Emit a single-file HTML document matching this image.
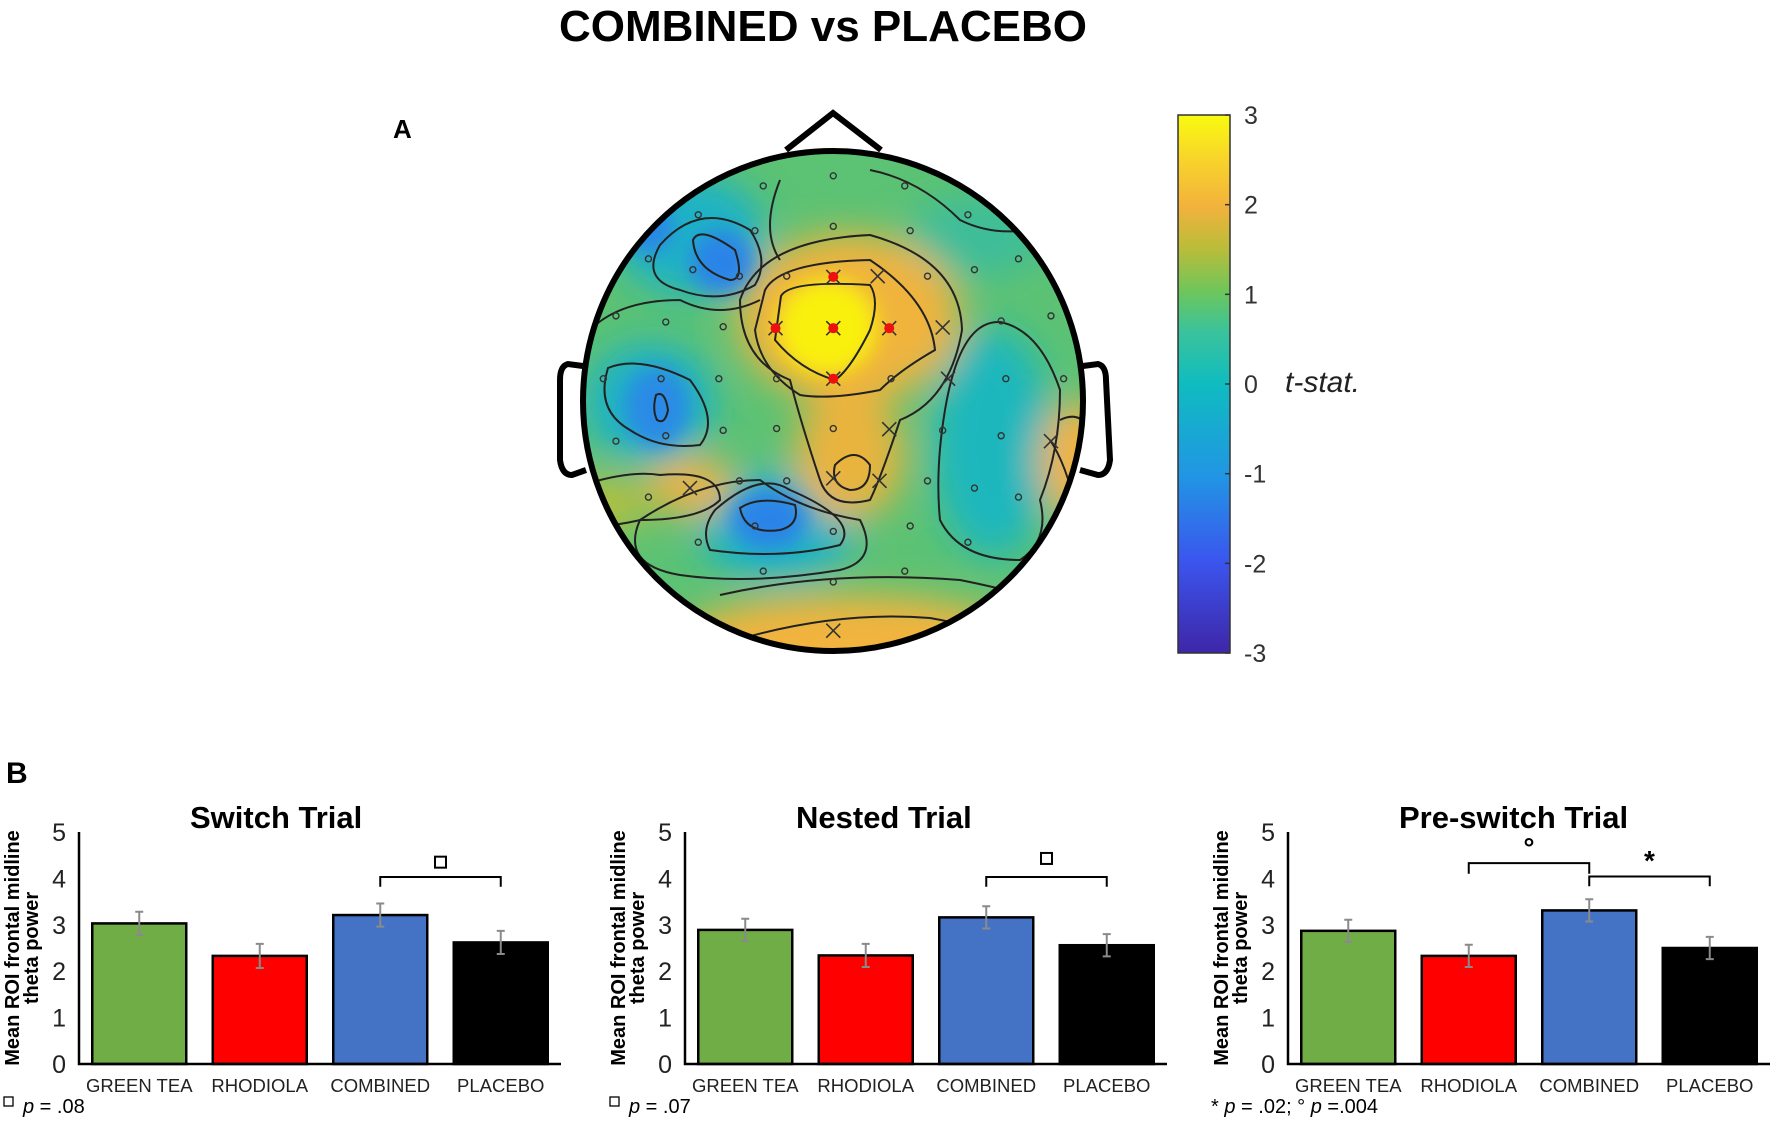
<!DOCTYPE html>
<html><head><meta charset="utf-8"><style>
html,body{margin:0;padding:0;background:#fff;}
svg{display:block;font-family:"Liberation Sans",Arial,sans-serif;}
</style></head><body>
<svg id="fig" width="1772" height="1122" viewBox="0 0 1772 1122">
<defs>
<linearGradient id="parula" x1="0" y1="1" x2="0" y2="0">
<stop offset="0" stop-color="#3e26a8"/><stop offset="0.17" stop-color="#3b55ee"/>
<stop offset="0.33" stop-color="#2196e4"/><stop offset="0.5" stop-color="#0fbcc0"/>
<stop offset="0.6" stop-color="#3cc39a"/><stop offset="0.67" stop-color="#6cc65c"/>
<stop offset="0.75" stop-color="#b8bd3a"/><stop offset="0.83" stop-color="#f2b23c"/>
<stop offset="0.92" stop-color="#f8d52a"/><stop offset="1" stop-color="#f9fb0e"/>
</linearGradient>
<clipPath id="headclip"><circle cx="833" cy="401" r="250"/></clipPath>
<filter id="blur" x="-50%" y="-50%" width="200%" height="200%"><feGaussianBlur stdDeviation="18"/></filter>
<filter id="blur2" x="-50%" y="-50%" width="200%" height="200%"><feGaussianBlur stdDeviation="10"/></filter>
</defs>
<text x="823" y="41" font-size="44" font-weight="bold" text-anchor="middle">COMBINED vs PLACEBO</text>
<text x="393" y="138" font-size="26" font-weight="bold">A</text>
<text x="6" y="783" font-size="30" font-weight="bold">B</text>

<g>
<polyline points="786,150 833,113 881,150" fill="none" stroke="#000" stroke-width="6"/>
<path d="M583,366 L568,364 Q560,366 560,380 L560,460 Q562,475 572,475 L586,470" fill="#fff" stroke="#000" stroke-width="6"/>
<path d="M1083,366 L1098,364 Q1106,366 1106,380 L1110,460 Q1108,475 1098,475 L1080,470" fill="#fff" stroke="#000" stroke-width="6"/>
<g clip-path="url(#headclip)">
<rect x="560" y="140" width="560" height="520" fill="#5cc274"/>
<g filter="url(#blur)">
<ellipse cx="690" cy="235" rx="75" ry="60" fill="#1fb2c6"/>
<ellipse cx="650" cy="403" rx="65" ry="60" fill="#1fb2c6"/>
<ellipse cx="777" cy="526" rx="80" ry="55" fill="#1fb2c6"/>
<ellipse cx="993" cy="443" rx="60" ry="115" fill="#1fb7bd"/>
<ellipse cx="975" cy="237" rx="70" ry="40" fill="#3dbd9a"/>
<ellipse cx="849" cy="318" rx="112" ry="85" fill="#f0b43e"/>
<ellipse cx="849" cy="455" rx="55" ry="65" fill="#e9b43e"/>
<ellipse cx="690" cy="486" rx="45" ry="30" fill="#e8b440"/>
<ellipse cx="849" cy="640" rx="170" ry="45" fill="#f2b43c"/>
<ellipse cx="1080" cy="461" rx="40" ry="60" fill="#f0b43e"/>
<ellipse cx="605" cy="505" rx="40" ry="30" fill="#b4bf40"/>
</g>
<g filter="url(#blur2)">
<ellipse cx="827" cy="327" rx="50" ry="48" fill="#f9f010"/>
<ellipse cx="722" cy="262" rx="32" ry="32" fill="#2a84e8"/>
<ellipse cx="648" cy="228" rx="25" ry="25" fill="#2a84e8"/>
<ellipse cx="657" cy="407" rx="32" ry="40" fill="#2a8ae6"/>
<ellipse cx="769" cy="519" rx="38" ry="30" fill="#2a84e8"/>
</g>
<g fill="none" stroke="#222" stroke-width="2">
<path d="M781,296 Q790,280 870,285 Q880,300 870,330 Q850,370 835,380 Q800,370 775,340 Z"/>
<path d="M765,290 Q780,262 870,260 Q930,300 935,350 Q900,370 880,390 Q830,400 800,395 Q760,370 755,330 Z"/>
<path d="M740,300 Q760,240 870,235 Q960,260 962,330 Q950,400 900,420 Q880,480 870,500 Q830,510 820,480 Q800,420 790,380 Q740,360 740,300 Z"/>
<path d="M693,240 Q700,225 735,250 Q745,280 730,280 Q695,270 693,240 Z"/>
<path d="M660,245 Q700,200 750,230 Q770,260 755,285 Q720,305 680,290 Q640,280 660,245 Z"/>
<path d="M608,368 Q640,355 690,380 Q720,420 700,445 Q660,450 630,430 Q595,410 608,368 Z"/>
<path d="M656,395 Q665,390 668,410 Q665,425 657,420 Q652,410 656,395 Z"/>
<path d="M740,508 Q760,495 795,505 Q800,525 780,530 Q745,535 740,508 Z"/>
<path d="M715,510 Q760,470 790,490 Q860,520 840,545 Q780,560 710,550 Q700,530 715,510 Z"/>
<path d="M640,520 Q700,480 760,480 Q800,510 860,520 Q880,560 840,570 Q750,585 680,575 Q620,565 640,520 Z"/>
<path d="M835,465 Q855,445 870,465 Q870,490 850,490 Q830,485 835,465 Z"/>
<path d="M945,410 Q960,320 1000,322 Q1040,330 1060,390 Q1060,450 1040,500 Q1050,540 1020,560 Q960,560 940,520 Q935,470 945,410 Z"/>
<path d="M720,595 Q830,570 960,580 Q1060,600 1080,620"/>
<path d="M720,645 Q830,610 930,618 Q1000,630 1040,660"/>
<path d="M1060,420 Q1080,410 1090,430 M1050,440 Q1070,470 1080,530"/>
<path d="M590,330 Q620,300 680,300 Q720,320 760,300"/>
<path d="M583,485 Q630,470 660,475 Q720,470 720,500 Q700,520 640,520 Q600,530 583,520"/>
<path d="M780,180 Q760,230 780,260 M870,170 Q920,180 960,220 Q1000,240 1050,225"/>
</g>
</g>
<circle cx="833" cy="401" r="250" fill="none" stroke="#000" stroke-width="6"/>
<g id="electrodes"></g>
</g>

<g>
<rect x="1178" y="115" width="52" height="538" fill="url(#parula)" stroke="#333" stroke-width="1.5"/>
<g id="cbticks"></g>
<text x="1285" y="392" font-size="30" font-style="italic" fill="#222">t-stat.</text>
</g>

<g id="charts"></g>
</svg>
<script>
var categories = ["GREEN TEA","RHODIOLA","COMBINED","PLACEBO"];
var barColors = ["#70ad47","#ff0000","#4472c4","#000000"];
var panelTitles = ["Switch Trial","Nested Trial","Pre-switch Trial"];
var switchValues = [3.03, 2.33, 3.21, 2.62];
var nestedValues = [2.89, 2.34, 3.16, 2.56];
var preswitchValues = [2.87, 2.33, 3.31, 2.50];
var switchErrors = [0.25, 0.26, 0.25, 0.25];
var nestedErrors = [0.24, 0.25, 0.24, 0.24];
var preswitchErrors = [0.24, 0.24, 0.24, 0.24];
var yTicks = [0,1,2,3,4,5];
var cbTicks = [3,2,1,0,-1,-2,-3];
var electrodePts = [[757,210],[563,238],[955,238],[383,318],[1130,318],[540,362],[757,350],[970,362],[245,440],[368,470],[497,488],[628,488],[1018,488],[1148,470],[1270,440],[155,598],[293,615],[452,628],[1222,612],[1360,598],[120,772],[280,772],[440,772],[600,772],[917,772],[1235,772],[1395,772],[293,930],[155,945],[452,915],[600,910],[757,910],[1060,915],[1222,930],[497,1055],[628,1055],[1018,1055],[1148,1075],[245,1100],[1270,1100],[540,1180],[757,1195],[970,1180],[1130,1225],[383,1225],[563,1305],[955,1305],[757,1335]];
var crossPts = [[880,488],[1060,630],[1075,772],[912,912],[757,1048],[885,1055],[1360,945],[757,1470],[360,1075]];
var redPts = [[757,490],[597,632],[757,632],[912,632],[757,772]];

var NS = "http://www.w3.org/2000/svg";
function mk(tag, attrs, parent){var e=document.createElementNS(NS,tag);for(var k in attrs)e.setAttribute(k,attrs[k]);parent.appendChild(e);return e;}
function zx(v){return 560+v/2.77;}
function zy(v){return 100+v/2.77;}

var eg=document.getElementById('electrodes');
electrodePts.forEach(function(p){
  var c=mk('circle',{cx:zx(p[0]),cy:zy(p[1]),r:3,fill:'none',stroke:'#333','stroke-width':1.4},eg);
  
  
});
crossPts.forEach(function(p){
  var x=zx(p[0]),y=zy(p[1]);
  var pth=mk('path',{d:'M'+(x-7)+','+(y-7)+'L'+(x+7)+','+(y+7)+'M'+(x+7)+','+(y-7)+'L'+(x-7)+','+(y+7),stroke:'#333','stroke-width':1.6},eg);
  
  
});
redPts.forEach(function(p){
  var x=zx(p[0]),y=zy(p[1]);
  mk('path',{d:'M'+(x-7)+','+(y-7)+'L'+(x+7)+','+(y+7)+'M'+(x+7)+','+(y-7)+'L'+(x-7)+','+(y+7),stroke:'#333','stroke-width':1.6},eg);
  var c=mk('circle',{cx:x,cy:y,r:5,fill:'#ee1010'},eg);
  
  
});

var cbg=document.getElementById('cbticks');
function cbY(v){return 115+(3-v)/6*538;}
cbTicks.forEach(function(v){
  mk('line',{x1:1225,x2:1230,y1:cbY(v),y2:cbY(v),stroke:'#333','stroke-width':1.5},cbg);
  var t=mk('text',{x:1244,y:cbY(v)+9,'font-size':25,fill:'#333'},cbg);
  t.textContent=String(v);
  
  
});

var charts=document.getElementById('charts');
var axisX=[79,685,1288];
var valuesAll=[switchValues,nestedValues,preswitchValues];
var errorsAll=[switchErrors,nestedErrors,preswitchErrors];
var y0=1064, unit=46.4, axisLen=482, pitch=120.5, bw=94;
function yS(v){return y0-v*unit;}
function bracket(g,px,i1,i2,top,end,label,ly,isSquare){
  var x1=px+pitch*(i1+0.5),x2=px+pitch*(i2+0.5);
  var b=mk('path',{d:'M'+x1+','+yS(end)+'V'+yS(top)+'H'+x2+'V'+yS(end),fill:'none',stroke:'#000','stroke-width':2},g);
  
  
  var mx=(x1+x2)/2;
  if(isSquare){
    var r=mk('rect',{x:mx-5.5,y:yS(ly)-5.5,width:11,height:11,fill:'none',stroke:'#000','stroke-width':2},g);
    
    
  } else {
    var t=mk('text',{x:mx,y:yS(ly)+10,'font-size':28,'font-weight':'bold','text-anchor':'middle'},g);
    t.textContent=label;
    
    
  }
}
for(var p=0;p<3;p++){
  var px=axisX[p];
  var g=mk('g',{},charts);
  
  
  var tt=mk('text',{x:px+111,y:828,'font-size':31,'font-weight':'bold'},g);
  tt.textContent=panelTitles[p];
  
  
  var yl=mk('text',{transform:'translate('+(px-60)+',948) rotate(-90)','font-size':20,'font-weight':'bold','text-anchor':'middle'},g);
  yl.textContent='Mean ROI frontal midline';
  
  
  var yl2=mk('text',{transform:'translate('+(px-41)+',948) rotate(-90)','font-size':20,'font-weight':'bold','text-anchor':'middle'},g);
  yl2.textContent='theta power';
  
  
  yTicks.forEach(function(v){
    var t=mk('text',{x:px-13,y:yS(v)+9,'font-size':25,'text-anchor':'end',fill:'#222'},g);
    t.textContent=String(v);
    
    
  });
  var vals=valuesAll[p], errs=errorsAll[p];
  for(var i=0;i<4;i++){
    var cx=px+pitch*(i+0.5);
    var r=mk('rect',{x:cx-bw/2,y:yS(vals[i]),width:bw,height:vals[i]*unit,fill:barColors[i],stroke:'#000','stroke-width':2.5},g);
    
    
    var e=mk('path',{d:'M'+cx+','+yS(vals[i]+errs[i])+'V'+yS(vals[i]-errs[i])+'M'+(cx-4)+','+yS(vals[i]+errs[i])+'H'+(cx+4)+'M'+(cx-4)+','+yS(vals[i]-errs[i])+'H'+(cx+4),stroke:'#8a8a8a','stroke-width':2,fill:'none'},g);
    
    
    var c=mk('text',{x:cx,y:1092,'font-size':18.5,'text-anchor':'middle',fill:'#222'},g);
    c.textContent=categories[i];
    
    
  }
  var ax=mk('path',{d:'M'+px+','+yS(5)+'V'+y0+'H'+(px+axisLen),fill:'none',stroke:'#000','stroke-width':2.5},g);
  
  
  if(p<2){
    bracket(g,px,2,3,4.03,3.82,'',p==0?4.35:4.43,true);
    mk('rect',{x:px-75,y:1097,width:9,height:9,fill:'none',stroke:'#000','stroke-width':1.3},g);
    var fn=mk('text',{x:px-56,y:1113,'font-size':20},g);
    fn.innerHTML='<tspan font-style="italic">p</tspan> = .0'+(p==0?'8':'7');
    
    
  } else {
    bracket(g,px,1,2,4.33,4.1,'°',4.67,false);
    bracket(g,px,2,3,4.04,3.83,'*',4.4,false);
    var fn2=mk('text',{x:px-77,y:1113,'font-size':20},g);
    fn2.innerHTML='* <tspan font-style="italic">p</tspan> = .02; ° <tspan font-style="italic">p</tspan> =.004';
    
    
  }
}
</script>
</body></html>
